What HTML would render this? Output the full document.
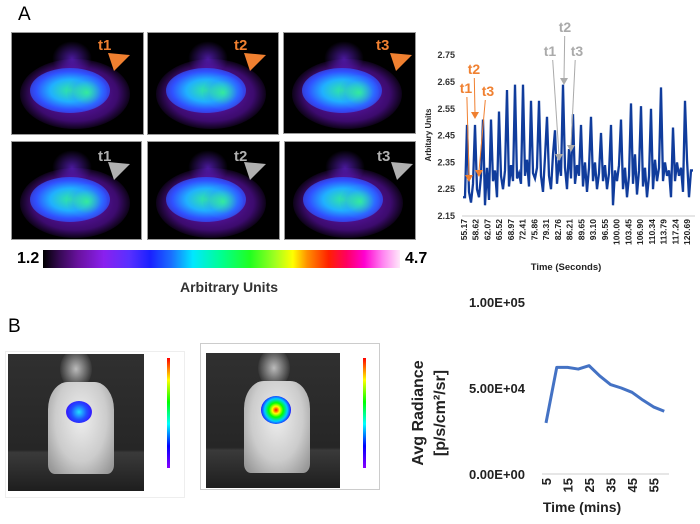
<!DOCTYPE html>
<html><head><meta charset="utf-8"><style>
body{margin:0;width:700px;height:524px;background:#fff;position:relative;overflow:hidden;font-family:"Liberation Sans",sans-serif}
.abs{position:absolute}
.hm{position:absolute;background:#000;border:1px solid #999;overflow:hidden}
.blob{position:absolute;border-radius:50%}
</style></head><body>
<div class="abs" style="left:18px;top:4px;font-size:19px">A</div>
<div class="abs" style="left:8px;top:316px;font-size:19px">B</div>

<div id="hms"></div>

<div class="abs" style="left:17px;top:250px;font-size:16px;font-weight:bold">1.2</div>
<div class="abs" style="left:43px;top:250px;width:357px;height:18px;background:linear-gradient(90deg,#000 0%,#3a0a5a 5%,#6a12a0 10%,#8a20ee 17%,#5a30ff 24%,#1a20ff 30%,#1a70ff 36%,#00e8ff 42%,#00ff90 50%,#20ff20 58%,#a0ff20 65%,#ffff00 70%,#ff9000 74%,#ff2000 80%,#ff0060 85%,#ff00d0 90%,#ff80f0 95%,#ffe8fa 100%)"></div>
<div class="abs" style="left:405px;top:250px;font-size:16px;font-weight:bold">4.7</div>
<div class="abs" style="left:180px;top:279px;font-size:14px;font-weight:bold;color:#333">Arbitrary Units</div>

<!-- mouse images -->
<div class="abs" style="left:5px;top:351px;width:178px;height:145px;border:1px solid #eee;background:#fff"></div>
<div class="abs" style="left:8px;top:354px;width:136px;height:137px;overflow:hidden;background:linear-gradient(#303030 0%,#262626 70%,#3a3a3a 72%,#1e1e1e 100%)">
<div class="blob" style="left:52px;top:-5px;width:32px;height:40px;background:radial-gradient(ellipse,#bbb,rgba(150,150,150,0) 75%)"></div>
<div class="abs" style="left:40px;top:28px;width:66px;height:92px;border-radius:30% 30% 10% 10%;background:radial-gradient(ellipse at 50% 40%,#eee 0%,#ccc 55%,#999 90%)"></div>
<div class="blob" style="left:58px;top:47px;width:26px;height:22px;background:radial-gradient(circle,#20e0ff 0%,#2050ff 45%,#3020ff 70%,#8030ff 100%)"></div></div>
<div class="abs" style="left:167px;top:358px;width:3px;height:110px;background:linear-gradient(#f00,#ff0,#0f0,#0ff,#00f,#80f)"></div>
<div class="abs" style="left:200px;top:343px;width:178px;height:145px;border:1px solid #ccc;background:#fff"></div>
<div class="abs" style="left:206px;top:353px;width:134px;height:135px;overflow:hidden;background:linear-gradient(#303030 0%,#262626 70%,#3a3a3a 72%,#1e1e1e 100%)">
<div class="blob" style="left:52px;top:-5px;width:32px;height:40px;background:radial-gradient(ellipse,#bbb,rgba(150,150,150,0) 75%)"></div>
<div class="abs" style="left:38px;top:28px;width:66px;height:92px;border-radius:30% 30% 10% 10%;background:radial-gradient(ellipse at 50% 40%,#eee 0%,#ccc 55%,#999 90%)"></div>
<div class="blob" style="left:55px;top:43px;width:30px;height:28px;background:radial-gradient(circle,#f00 0%,#ff0 18%,#0f0 35%,#0cf 55%,#20f 75%,#80f 100%)"></div></div>
<div class="abs" style="left:363px;top:358px;width:3px;height:110px;background:linear-gradient(#f00,#ff0,#0f0,#0ff,#00f,#80f)"></div>

<svg class="abs" style="left:0;top:0" width="700" height="524" id="sv">
<g id="c1"></g><g id="c2"></g>
</svg>
<script>
// heatmaps
const hmBoxes=[[11,32,131,101],[147,32,130,101],[283,32,131,100],[11,141,129,97],[147,141,131,97],[284,141,130,97]];
const hmLabels=['t1','t2','t3','t1','t2','t3'];
const hc=document.getElementById('hms');
hmBoxes.forEach((b,i)=>{
 const d=document.createElement('div');d.className='hm';
 
 
 d.style.cssText=`left:${b[0]}px;top:${b[1]}px;width:${b[2]}px;height:${b[3]}px`;
 d.innerHTML=`<div class="blob" style="left:8px;top:26px;width:110px;height:70px;background:radial-gradient(ellipse,rgba(120,30,220,0.9) 0%,rgba(110,20,200,0.55) 55%,transparent 75%)"></div>
 <div class="blob" style="left:40px;top:8px;width:40px;height:35px;background:radial-gradient(ellipse,rgba(120,40,255,.6),transparent 70%)"></div>
 <div class="blob" style="left:18px;top:35px;width:80px;height:45px;background:radial-gradient(ellipse,#30e8a0 0%,#20b0ff 35%,#3050ff 60%,rgba(120,30,230,0) 100%)"></div>
 <div class="blob" style="left:55px;top:42px;width:40px;height:35px;background:radial-gradient(ellipse,rgba(60,255,120,.7) 0%,rgba(40,150,255,.3) 50%,transparent 80%)"></div>`;
 const c=i<3?'#f08030':'#b0b0b0';
 d.innerHTML+=`<div style="position:absolute;left:${i==2||i==5?92:86}px;top:${i<3?4:6}px;color:${c};font-weight:bold;font-size:15px">${hmLabels[i]}</div>`;
 d.innerHTML+=`<svg style="position:absolute;left:0;top:0" width="${b[2]}" height="${b[3]}"><polygon points="${i==2||i==5?112:102},38 ${i==2||i==5?128:118},22 ${i==2||i==5?106:96},20" fill="${c}"/></svg>`;
 hc.appendChild(d);
});

// chart 1 data
const c1Ticks=[2.15,2.25,2.35,2.45,2.55,2.65,2.75];
const c1XLabels=['55.17','58.62','62.07','65.52','68.97','72.41','75.86','79.31','82.76','86.21','89.65','93.10','96.55','100.00','103.45','106.90','110.34','113.79','117.24','120.69'];
const c1Values=[2.22,2.22,2.49,2.24,2.20,2.27,2.49,2.25,2.22,2.30,2.51,2.19,2.33,2.21,2.51,2.28,2.32,2.22,2.54,2.30,2.25,2.32,2.62,2.26,2.34,2.28,2.64,2.29,2.31,2.27,2.64,2.30,2.36,2.26,2.58,2.31,2.29,2.33,2.58,2.30,2.24,2.37,2.52,2.30,2.25,2.38,2.47,2.27,2.36,2.30,2.64,2.33,2.25,2.40,2.29,2.53,2.27,2.34,2.30,2.49,2.26,2.35,2.24,2.33,2.52,2.28,2.35,2.25,2.31,2.46,2.28,2.34,2.25,2.31,2.49,2.19,2.32,2.28,2.34,2.51,2.25,2.33,2.22,2.30,2.57,2.27,2.38,2.23,2.32,2.56,2.26,2.33,2.22,2.30,2.55,2.25,2.36,2.28,2.33,2.63,2.28,2.35,2.30,2.32,2.22,2.48,2.28,2.35,2.30,2.33,2.24,2.58,2.36,2.22,2.32,2.32];
const ns='http://www.w3.org/2000/svg';
function mk(p,t,a,txt){const e=document.createElementNS(ns,t);for(const k in a)e.setAttribute(k,a[k]);if(txt!==undefined)e.textContent=txt;p.appendChild(e);return e;}
const g1=document.getElementById('c1');
const y1=v=>216-(v-2.15)/0.1*26.8;
const x1=i=>463+i*(230/(c1Values.length-1));
mk(g1,'line',{x1:462,y1:216,x2:695,y2:216,stroke:'#ccc','stroke-width':1});
c1Ticks.forEach(t=>{const e=mk(g1,'text',{x:455,y:y1(t)+3,'text-anchor':'end','font-size':9,'font-weight':'bold',fill:'#333'},t.toFixed(2));

});
c1XLabels.forEach((l,i)=>{const x=464+i*(223/19);const e=mk(g1,'text',{x:0,y:0,transform:`translate(${x+3},219) rotate(-90)`,'text-anchor':'end','font-size':8.5,'font-weight':'bold',fill:'#222'},l);

});
const pl=mk(g1,'polyline',{points:c1Values.map((v,i)=>x1(i)+','+y1(v)).join(' '),fill:'none',stroke:'#103c9c','stroke-width':2.3,'stroke-linejoin':'miter'});


let e=mk(g1,'text',{x:566,y:270,'text-anchor':'middle','font-size':9.5,'font-weight':'bold',fill:'#222'},'Time (Seconds)');


e=mk(g1,'text',{transform:'translate(431,135) rotate(-90)','text-anchor':'middle','font-size':8,'font-weight':'bold',fill:'#222'},'Arbitary Units');


// annotations
const ann=[['t1',466,93,469,181,'#f08030'],['t2',474,74,475,118,'#f08030'],['t3',488,96,479,176,'#f08030'],['t1',550,56,559,160,'#aaa'],['t2',565,32,564,84,'#aaa'],['t3',577,56,571,151,'#aaa']];
ann.forEach(a=>{const tx=mk(g1,'text',{x:a[1],y:a[2],'text-anchor':'middle','font-size':14,'font-weight':'bold',fill:a[5]},a[0]);


mk(g1,'line',{x1:a[1]+(a[3]-a[1])*0.3,y1:a[2]+4,x2:a[3],y2:a[4]-5,stroke:a[5],'stroke-width':1});
mk(g1,'polygon',{points:`${a[3]-4},${a[4]-6} ${a[3]+4},${a[4]-6} ${a[3]},${a[4]+1}`,fill:a[5]});});

// chart 2
const c2Times=[5,10,15,20,25,30,35,40,45,50,55,60];
const c2Values=[29700,62000,62000,61000,63000,57000,52000,50000,47500,43000,39000,36500];
const c2Ticks=[0,50000,100000];
const c2TickLabels=['0.00E+00','5.00E+04','1.00E+05'];
const c2XLabels=[5,15,25,35,45,55];
const g2=document.getElementById('c2');
const y2=v=>474-v/50000*86;
const x2=t=>546+(t-5)*2.15;
mk(g2,'line',{x1:542,y1:474,x2:669,y2:474,stroke:'#ccc','stroke-width':1});
c2Ticks.forEach((t,i)=>{const e=mk(g2,'text',{x:525,y:y2(t)+5,'text-anchor':'end','font-size':13,'font-weight':'bold',fill:'#222'},c2TickLabels[i]);

});
c2XLabels.forEach(t=>{const e=mk(g2,'text',{transform:`translate(${x2(t)+5},478) rotate(-90)`,'text-anchor':'end','font-size':13,'font-weight':'bold',fill:'#222'},String(t));

});
const pl2=mk(g2,'polyline',{points:c2Times.map((t,i)=>x2(t)+','+y2(c2Values[i])).join(' '),fill:'none',stroke:'#4472c4','stroke-width':3,'stroke-linejoin':'round'});


e=mk(g2,'text',{x:582,y:512,'text-anchor':'middle','font-size':14,'font-weight':'bold',fill:'#222'},'Time (mins)');


e=mk(g2,'text',{transform:'translate(423,413) rotate(-90)','text-anchor':'middle','font-size':16,'font-weight':'bold',fill:'#222'},'Avg Radiance');


e=mk(g2,'text',{transform:'translate(445,413) rotate(-90)','text-anchor':'middle','font-size':16,'font-weight':'bold',fill:'#222'},'[p/s/cm²/sr]');


</script>
</body></html>
